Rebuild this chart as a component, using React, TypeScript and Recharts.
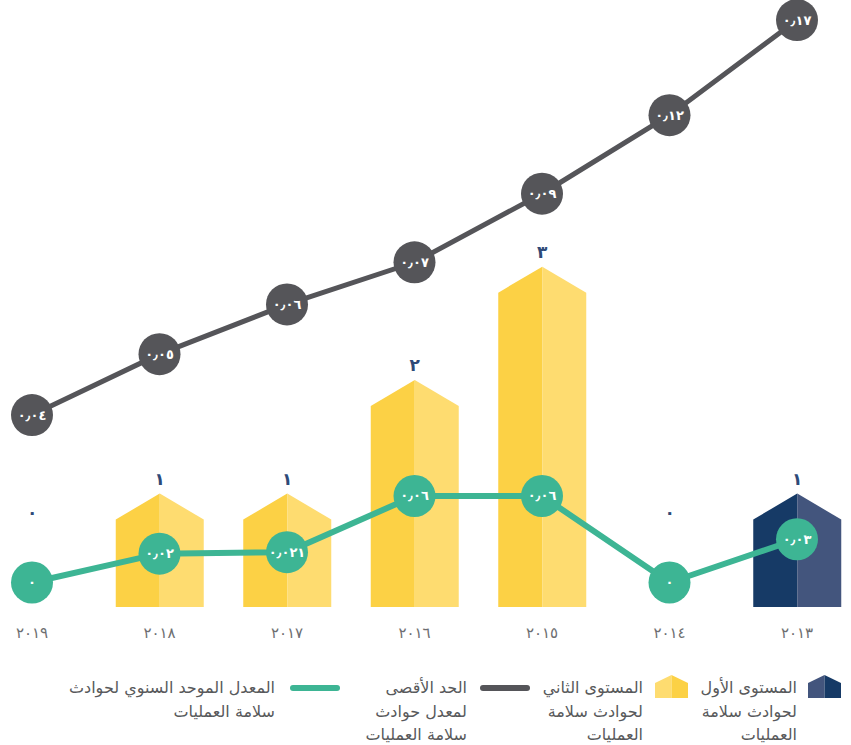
import { ComposedChart, Bar, Line, XAxis, YAxis, LabelList } from "recharts";

// years run left-to-right in the source as 2019 ... 2013 (RTL), kept chronological here
const years = [2013, 2014, 2015, 2016, 2017, 2018, 2019];
const tier1Events = [1, null, null, null, null, null, null];
const tier2Events = [null, 0, 3, 2, 1, 1, 0];
const maxRate = [0.17, 0.12, 0.09, 0.07, 0.06, 0.05, 0.04];
const annualRate = [0.03, 0, 0.06, 0.06, 0.021, 0.02, 0];

const legendItems = [
  { kind: "house", colors: ["#43557d", "#163a66"], lines: ["المستوى الأول", "لحوادث سلامة", "العمليات"] },
  { kind: "house", colors: ["#fedc70", "#fcd145"], lines: ["المستوى الثاني", "لحوادث سلامة", "العمليات"] },
  { kind: "line", colors: ["#555559"], lines: ["الحد الأقصى", "لمعدل حوادث", "سلامة العمليات"] },
  { kind: "line", colors: ["#3db594"], lines: ["المعدل الموحد السنوي لحوادث", "سلامة العمليات"] },
];

const data = years.map((year, i) => ({
  idx: i,
  year,
  tier1: tier1Events[i],
  tier2: tier2Events[i],
  maxRate: maxRate[i],
  rate: annualRate[i],
}));

const FONT = "'DejaVu Sans', sans-serif";
const arabicDigits = "٠١٢٣٤٥٦٧٨٩";
const toArabic = (s: string) =>
  s.replace(/[0-9]/g, (d) => arabicDigits[Number(d)]).replace(".", "٫");

const houseBar = (left: string, right: string) => (props: any) => {
  const { x, y, width, height } = props;
  if (!height || height <= 0) return <g />;
  const cx = x + width / 2;
  const roof = 26;
  const base = y + height;
  return (
    <g>
      <polygon points={`${x},${y + roof} ${cx},${y} ${cx},${base} ${x},${base}`} fill={left} />
      <polygon points={`${cx},${y} ${x + width},${y + roof} ${x + width},${base} ${cx},${base}`} fill={right} />
    </g>
  );
};

const barLabel = (props: any) => {
  const vb = props.viewBox || props;
  let v = props.value;
  if (Array.isArray(v)) v = v[1] - v[0];
  if (v == null || Number.isNaN(v)) return null;
  const ty = v > 0 ? vb.y - 15 : vb.y - 95;
  return (
    <text x={vb.x + vb.width / 2} y={ty} textAnchor="middle" dominantBaseline="central"
      fill="#2e4a78" fontSize={17} fontWeight="bold" fontFamily={FONT}>
      {toArabic(String(v))}
    </text>
  );
};

const circleDot = (name: string, color: string) => (props: any) => {
  const { cx, cy, index, value } = props;
  return (
    <g key={`${name}-${index}`}>
      <circle cx={cx} cy={cy} r={21} fill={color} />
      <text x={cx} y={cy} textAnchor="middle" dominantBaseline="central" fill="#ffffff"
        fontSize={13} fontWeight="bold" fontFamily={FONT}>
        {toArabic(String(value))}
      </text>
    </g>
  );
};

const LegendIcon = ({ kind, colors }: { kind: string; colors: string[] }) =>
  kind === "house" ? (
    <svg width={33} height={24} style={{ display: "block" }}>
      <polygon points="0,8 16.5,0 16.5,23 0,23" fill={colors[0]} />
      <polygon points="16.5,0 33,8 33,23 16.5,23" fill={colors[1]} />
    </svg>
  ) : (
    <svg width={50} height={8} style={{ display: "block" }}>
      <line x1={3} y1={4} x2={47} y2={4} stroke={colors[0]} strokeWidth={6} strokeLinecap="round" />
    </svg>
  );

// legend item anchors (icon left, icon top, text right edge)
const legendPos = [
  { iconLeft: 808, iconTop: 675, textRight: 797 },
  { iconLeft: 655, iconTop: 675, textRight: 643 },
  { iconLeft: 480, iconTop: 684, textRight: 467 },
  { iconLeft: 290, iconTop: 684, textRight: 275 },
];

export default function App() {
  return (
    <div style={{ position: "absolute", left: 0, top: 0, width: 851, height: 745, background: "#fff", fontFamily: FONT }}>
      <ComposedChart width={851} height={650} data={data} margin={{ top: 0, right: 54, left: 32, bottom: 0 }}>
        <XAxis xAxisId="main" dataKey="idx" type="number" domain={[0, 6]} ticks={[0, 1, 2, 3, 4, 5, 6]}
          interval={0} reversed axisLine={false} tickLine={false} tickMargin={14} height={43}
          tickFormatter={(i: number) => toArabic(String(years[i]))}
          tick={{ fill: "#6d6e71", fontSize: 15, fontFamily: FONT }} />
        <XAxis xAxisId="tier1" dataKey="idx" type="number" domain={[0, 6]} reversed hide />
        <YAxis yAxisId="events" domain={[0, 5.35]} hide />
        <YAxis yAxisId="max" scale="log" domain={[0.0198, 0.183]} hide allowDataOverflow />
        <YAxis yAxisId="rate" domain={[-0.017, 0.404]} hide />

        <Bar xAxisId="tier1" yAxisId="events" dataKey="tier1" barSize={88} isAnimationActive={false}
          shape={houseBar("#163a66", "#43557d")}>
          <LabelList dataKey="tier1" content={barLabel} />
        </Bar>
        <Bar xAxisId="main" yAxisId="events" dataKey="tier2" barSize={88} isAnimationActive={false}
          shape={houseBar("#fcd145", "#fedc70")}>
          <LabelList dataKey="tier2" content={barLabel} />
        </Bar>
        <Line xAxisId="main" yAxisId="max" dataKey="maxRate" stroke="#555559" strokeWidth={5}
          dot={circleDot("max", "#555559")} activeDot={false} isAnimationActive={false} />
        <Line xAxisId="main" yAxisId="rate" dataKey="rate" stroke="#3db594" strokeWidth={6}
          dot={circleDot("rate", "#3db594")} activeDot={false} isAnimationActive={false} />
      </ComposedChart>

      {legendItems.map((item, i) => (
        <div key={i}>
          <div style={{ position: "absolute", left: legendPos[i].iconLeft, top: legendPos[i].iconTop }}>
            <LegendIcon kind={item.kind} colors={item.colors} />
          </div>
          <div dir="rtl" style={{ position: "absolute", right: 851 - legendPos[i].textRight, top: 676,
            textAlign: "right", fontSize: 16, lineHeight: "23.5px", color: "#58595b", whiteSpace: "nowrap" }}>
            {item.lines.map((l, j) => <div key={j}>{l}</div>)}
          </div>
        </div>
      ))}
    </div>
  );
}
